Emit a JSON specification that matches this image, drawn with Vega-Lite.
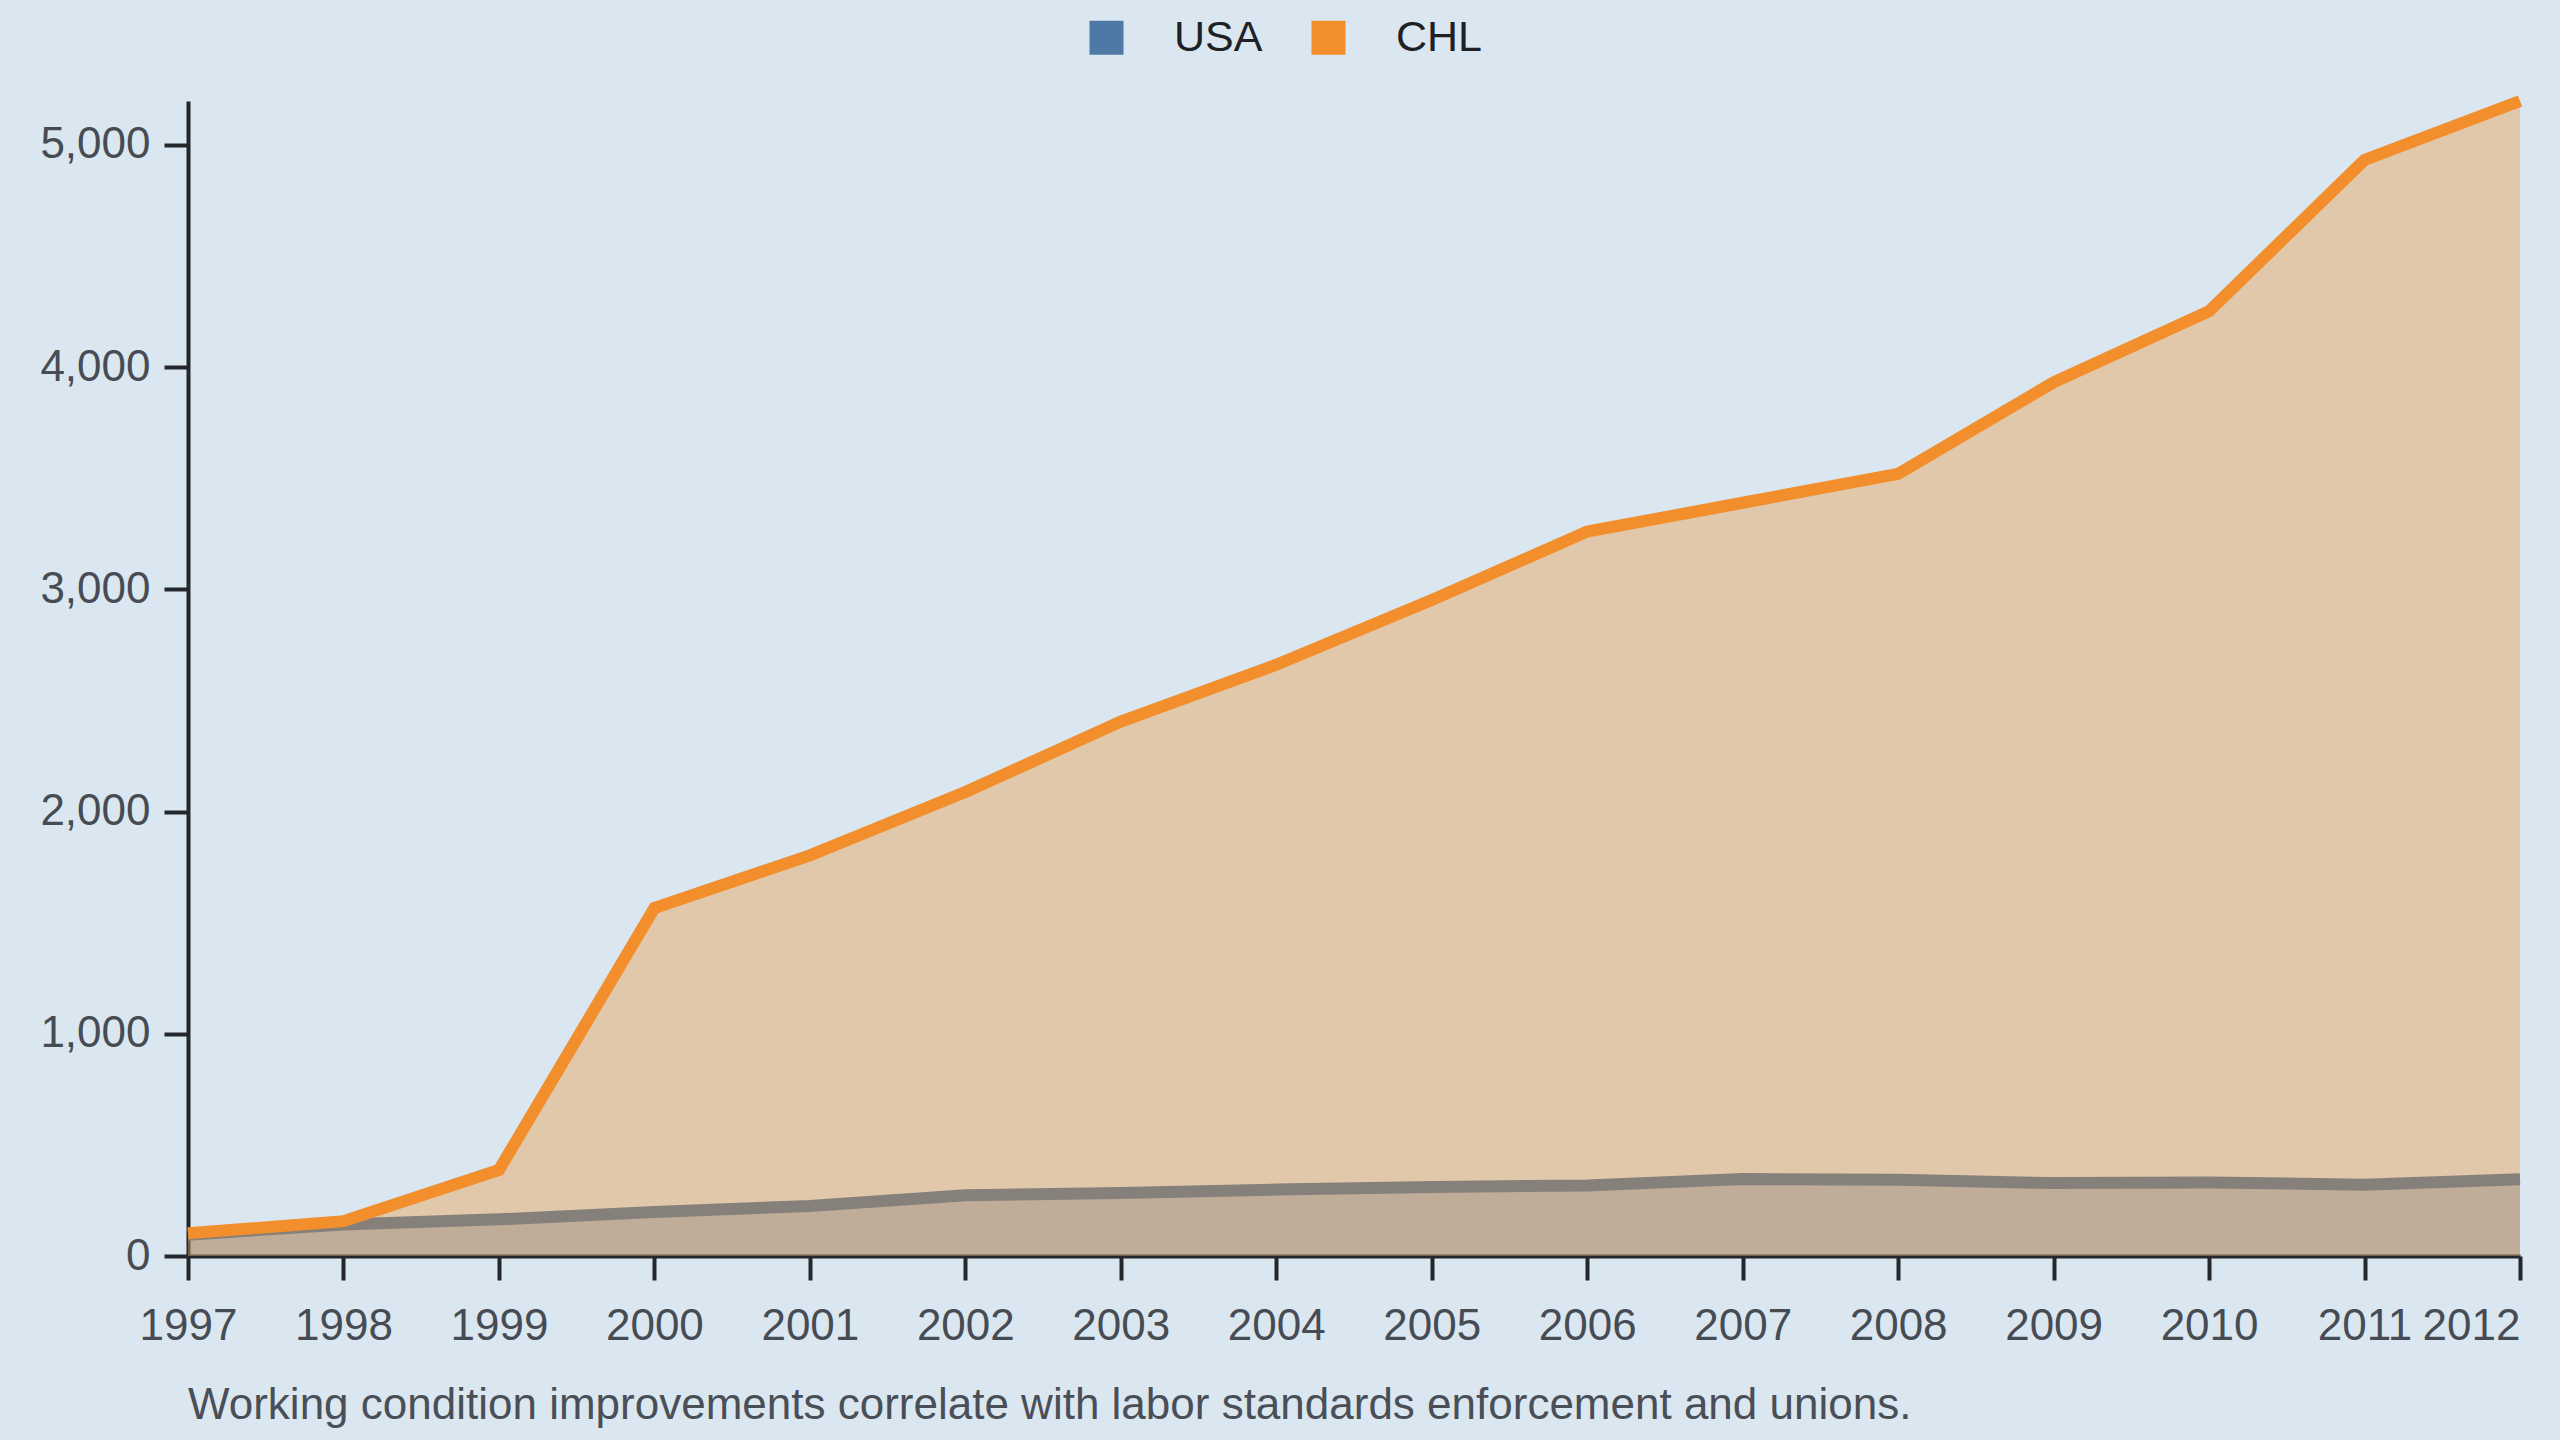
{
  "$schema": "https://vega.github.io/schema/vega-lite/v6.json",
  "width": 2332,
  "height": 1155,
  "autosize": {"type": "none"},
  "padding": {"left": 188, "top": 101, "right": 40, "bottom": 184},
  "background": "#dae7f0",
  "config": {
    "view": {"stroke": null},
    "font": "Liberation Sans",
    "axis": {
      "grid": false,
      "title": null,
      "domainColor": "#23262b",
      "domainWidth": 4,
      "tickColor": "#23262b",
      "tickWidth": 4,
      "tickSize": 24,
      "labelFontSize": 44,
      "labelColor": "#474c54",
      "labelFont": "Liberation Sans"
    }
  },
  "title": {
    "text": "Working condition improvements correlate with labor standards enforcement and unions.",
    "orient": "bottom",
    "anchor": "start",
    "frame": "group",
    "fontSize": 44,
    "fontWeight": "normal",
    "font": "Liberation Sans",
    "color": "#4a4f57",
    "offset": 36
  },
  "data": {
    "values": [
      {"country": "USA", "year": 1997, "value": 96},
      {"country": "USA", "year": 1998, "value": 142},
      {"country": "USA", "year": 1999, "value": 165},
      {"country": "USA", "year": 2000, "value": 198},
      {"country": "USA", "year": 2001, "value": 225},
      {"country": "USA", "year": 2002, "value": 273},
      {"country": "USA", "year": 2003, "value": 283},
      {"country": "USA", "year": 2004, "value": 299},
      {"country": "USA", "year": 2005, "value": 311},
      {"country": "USA", "year": 2006, "value": 317},
      {"country": "USA", "year": 2007, "value": 346},
      {"country": "USA", "year": 2008, "value": 343},
      {"country": "USA", "year": 2009, "value": 328},
      {"country": "USA", "year": 2010, "value": 331},
      {"country": "USA", "year": 2011, "value": 321},
      {"country": "USA", "year": 2012, "value": 345},
      {"country": "CHL", "year": 1997, "value": 102},
      {"country": "CHL", "year": 1998, "value": 157},
      {"country": "CHL", "year": 1999, "value": 387},
      {"country": "CHL", "year": 2000, "value": 1566},
      {"country": "CHL", "year": 2001, "value": 1803},
      {"country": "CHL", "year": 2002, "value": 2088},
      {"country": "CHL", "year": 2003, "value": 2405},
      {"country": "CHL", "year": 2004, "value": 2661},
      {"country": "CHL", "year": 2005, "value": 2952},
      {"country": "CHL", "year": 2006, "value": 3260},
      {"country": "CHL", "year": 2007, "value": 3390},
      {"country": "CHL", "year": 2008, "value": 3520},
      {"country": "CHL", "year": 2009, "value": 3932},
      {"country": "CHL", "year": 2010, "value": 4252},
      {"country": "CHL", "year": 2011, "value": 4933},
      {"country": "CHL", "year": 2012, "value": 5198}
    ]
  },
  "encoding": {
    "x": {
      "field": "year",
      "type": "quantitative",
      "scale": {"domain": [1997, 2012], "nice": false, "zero": false},
      "axis": {
        "values": [1997, 1998, 1999, 2000, 2001, 2002, 2003, 2004, 2005, 2006, 2007, 2008, 2009, 2010, 2011, 2012],
        "format": "d",
        "labelFlush": false,
        "labelOverlap": false,
        "labelPadding": 24,
        "labelAlign": {"condition": {"test": "datum.value == 2012", "value": "right"}, "value": "center"}
      }
    },
    "y": {
      "field": "value",
      "type": "quantitative",
      "scale": {"nice": false},
      "axis": {
        "values": [0, 1000, 2000, 3000, 4000, 5000],
        "format": ",d",
        "labelPadding": 14
      }
    },
    "color": {
      "field": "country",
      "type": "nominal",
      "scale": {"domain": ["USA", "CHL"], "range": ["#4e79a7", "#f28e2b"]},
      "legend": {
        "orient": "none",
        "direction": "horizontal",
        "legendX": 897,
        "legendY": -85,
        "title": null,
        "symbolType": "square",
        "symbolSize": 1156,
        "symbolOpacity": 1,
        "symbolStrokeWidth": 0,
        "labelFontSize": 43,
        "labelColor": "#1e2126",
        "labelFont": "Liberation Sans",
        "labelOffset": 46,
        "columnPadding": 44
      }
    }
  },
  "layer": [
    {
      "transform": [{"filter": "datum.country == 'USA'"}],
      "mark": {"type": "area", "opacity": 0.38}
    },
    {
      "transform": [{"filter": "datum.country == 'USA'"}],
      "mark": {"type": "line", "strokeWidth": 12}
    },
    {
      "transform": [{"filter": "datum.country == 'CHL'"}],
      "mark": {"type": "area", "opacity": 0.35}
    },
    {
      "transform": [{"filter": "datum.country == 'CHL'"}],
      "mark": {"type": "line", "strokeWidth": 12}
    }
  ]
}
